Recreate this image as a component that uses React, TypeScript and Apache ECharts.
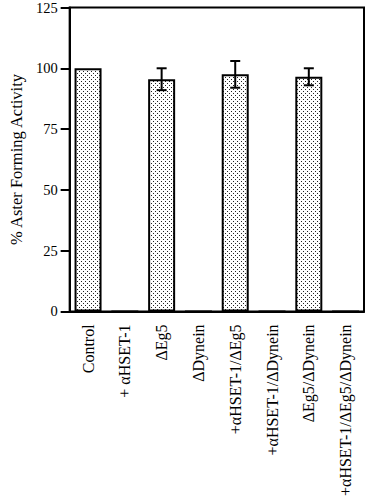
import React, { useEffect, useRef } from "react";
import * as echarts from "echarts";

const categories = [
  "Control",
  "+ αHSET-1",
  "ΔEg5",
  "ΔDynein",
  "+αHSET-1/ΔEg5",
  "+αHSET-1/ΔDynein",
  "ΔEg5/ΔDynein",
  "+αHSET-1/ΔEg5/ΔDynein",
];
const activity = [100, 0, 95.5, 0, 97.5, 0, 96.5, 0];
const errors = [0, 0, 4.5, 0, 5.5, 0, 3.5, 0];
const yTicks = [0, 25, 50, 75, 100, 125];

const FONT = "Liberation Serif";

export default function App() {
  const ref = useRef<HTMLDivElement>(null);
  useEffect(() => {
    if (!ref.current) return;
    const chart = echarts.init(ref.current, null, { renderer: "svg" });
    const cv = document.createElement("canvas");
    cv.width = 4;
    cv.height = 4;
    const ctx = cv.getContext("2d")!;
    ctx.fillStyle = "#fff";
    ctx.fillRect(0, 0, 4, 4);
    ctx.fillStyle = "#222";
    ctx.fillRect(1, 1, 1, 1);
    ctx.fillRect(3, 3, 1, 1);

    const errData = activity
      .map((v, i) => [i, v, errors[i]])
      .filter((d) => d[2] > 0);

    chart.setOption({
      animation: false,
      backgroundColor: "#fff",
      grid: {
        left: 58,
        right: 3,
        top: 7,
        bottom: 186,
        show: true,
        borderColor: "#000",
        borderWidth: 2,
        backgroundColor: "transparent",
      },
      xAxis: {
        type: "category",
        data: categories,
        axisLine: { lineStyle: { color: "#000", width: 2 } },
        axisTick: { alignWithLabel: true, length: 7, lineStyle: { color: "#000", width: 2 } },
        axisLabel: {
          rotate: 90,
          interval: 0,
          margin: 13,
          color: "#000",
          fontFamily: FONT,
          fontSize: 16,
        },
      },
      yAxis: {
        type: "value",
        min: 0,
        max: 125,
        interval: 25,
        name: "% Aster Forming Activity",
        nameLocation: "middle",
        nameGap: 38,
        nameTextStyle: { color: "#000", fontFamily: FONT, fontSize: 16.5 },
        splitLine: { show: false },
        axisLine: { show: true, lineStyle: { color: "#000", width: 2 } },
        axisTick: { show: true, length: 9, lineStyle: { color: "#000", width: 2 } },
        axisLabel: {
          color: "#000",
          fontFamily: FONT,
          fontSize: 14.5,
          margin: 12,
          formatter: (v: number) => (yTicks.includes(v) ? String(v) : ""),
        },
      },
      series: [
        {
          type: "bar",
          data: activity,
          barWidth: 27,
          itemStyle: {
            color: { image: cv, repeat: "repeat" },
            borderColor: "#000",
            borderWidth: 2,
          },
        },
        {
          type: "custom",
          data: errData,
          z: 5,
          renderItem: (params: any, api: any) => {
            const x = api.value(0);
            const v = api.value(1);
            const e = api.value(2);
            const top = api.coord([x, v + e]);
            const bot = api.coord([x, v - e]);
            const hw = 5;
            const style = { stroke: "#000", lineWidth: 2 };
            return {
              type: "group",
              children: [
                { type: "line", shape: { x1: top[0], y1: top[1], x2: bot[0], y2: bot[1] }, style },
                { type: "line", shape: { x1: top[0] - hw, y1: top[1], x2: top[0] + hw, y2: top[1] }, style },
                { type: "line", shape: { x1: bot[0] - hw, y1: bot[1], x2: bot[0] + hw, y2: bot[1] }, style },
              ],
            };
          },
        },
      ],
    });
    return () => chart.dispose();
  }, []);
  return <div ref={ref} style={{ width: 367, height: 499, position: "absolute", left: 0, top: 0 }} />;
}
